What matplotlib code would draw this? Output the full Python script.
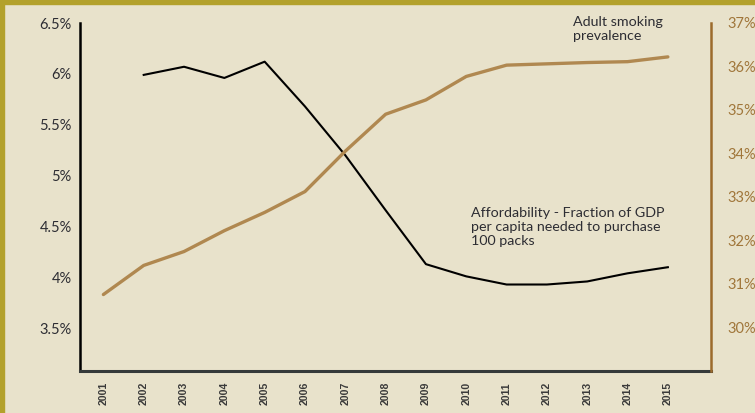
import matplotlib
matplotlib.use("Agg")
import matplotlib.pyplot as plt
from matplotlib.patches import Rectangle

#data-----------------
years_afford = [2002, 2003, 2004, 2005, 2006, 2007, 2008, 2009, 2010, 2011, 2012, 2013, 2014, 2015]
affordability = [5.99, 6.07, 5.96, 6.12, 5.68, 5.20, 4.66, 4.13, 4.01, 3.93, 3.93, 3.96, 4.04, 4.10]

years_smoking = [2001, 2002, 2003, 2004, 2005, 2006, 2007, 2008, 2009, 2010, 2011, 2012, 2013, 2014, 2015]
smoking = [30.75, 31.42, 31.74, 32.22, 32.64, 33.12, 34.05, 34.9, 35.23, 35.77, 36.03, 36.06, 36.09, 36.11, 36.22]

left_ticks = [3.5, 4, 4.5, 5, 5.5, 6, 6.5]
left_labels = ["3.5%", "4%", "4.5%", "5%", "5.5%", "6%", "6.5%"]
right_ticks = [30, 31, 32, 33, 34, 35, 36, 37]
right_labels = ["30%", "31%", "32%", "33%", "34%", "35%", "36%", "37%"]
#--------------------

bg = "#e8e2cb"
gold = "#b08850"
brown = "#9c6b2c"
txt = "#2d2d33"

plt.rcParams["font.family"] = ["Lato", "DejaVu Sans"]

W, H = 755, 413
fig = plt.figure(figsize=(W / 100, H / 100), dpi=100, facecolor=bg)

# olive frame on the left and top edges
fig.patches.append(Rectangle((0, 0), 4 / W, 1, transform=fig.transFigure, color="#b3a12c", zorder=0))
fig.patches.append(Rectangle((0, 1 - 4 / H), 1, 4 / H, transform=fig.transFigure, color="#b3a12c", zorder=0))

left, right, bottom, top = 80, 711, 371, 23
ax = fig.add_axes([left / W, 1 - bottom / H, (right - left) / W, (bottom - top) / H])
ax.set_facecolor("none")
ax2 = ax.twinx()

ax.plot(years_afford, affordability, color="black", lw=1.5, zorder=3)
ax2.plot(years_smoking, smoking, color=gold, lw=2.4, solid_capstyle="round")

ax.set_xlim(2000.42, 2016.07)
ax.set_ylim(3.08, 6.5)
ax2.set_ylim(28.99, 37.0)

ax.set_yticks(left_ticks)
ax.set_yticklabels(left_labels)
ax2.set_yticks(right_ticks)
ax2.set_yticklabels(right_labels)
ax.set_xticks(years_smoking)
ax.set_xticklabels([str(y) for y in years_smoking], rotation=90, fontsize=7.6,
                   family="Liberation Sans", fontweight="bold", color="#3a3a3a")

ax.tick_params(axis="y", length=0, pad=6, labelsize=10.5, labelcolor=txt)
ax.tick_params(axis="x", length=0, pad=8)
ax2.tick_params(axis="y", length=0, pad=12, labelsize=10.5, labelcolor="#a0763a")

for s in ["top", "right"]:
    ax.spines[s].set_visible(False)
for s in ["top", "left", "bottom"]:
    ax2.spines[s].set_visible(False)
ax.spines["left"].set_linewidth(1.8)
ax.spines["left"].set_color("black")
ax.spines["bottom"].set_linewidth(2.2)
ax.spines["bottom"].set_color("#353a3a")
ax2.spines["right"].set_linewidth(1.8)
ax2.spines["right"].set_color(brown)

fig.text(573 / W, 1 - 16 / H, "Adult smoking\nprevalence", fontsize=10.3, color=txt,
         va="top", ha="left", linespacing=1.2)
fig.text(471 / W, 1 - 207 / H, "Affordability - Fraction of GDP\nper capita needed to purchase\n100 packs",
         fontsize=10.3, color=txt, va="top", ha="left", linespacing=1.2)

fig.savefig("out.png", dpi=100, facecolor=bg)
